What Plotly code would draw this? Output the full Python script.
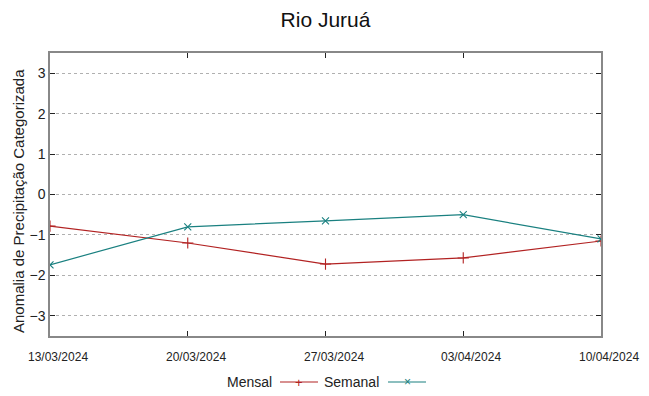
import plotly.graph_objects as go

dates = ["2024-03-13", "2024-03-20", "2024-03-27", "2024-04-03", "2024-04-10"]
tick_labels = ["13/03/2024", "20/03/2024", "27/03/2024", "03/04/2024", "10/04/2024"]
mensal = [-0.78, -1.2, -1.72, -1.57, -1.15]
semanal = [-1.74, -0.8, -0.65, -0.5, -1.1]

RED = "#b22222"
TEAL = "#1a8080"

fig = go.Figure()
fig.add_trace(go.Scatter(x=dates, y=mensal, mode="lines+markers", name="Mensal",
                         line=dict(color=RED, width=1.2),
                         marker=dict(symbol="cross-thin", size=8, line=dict(color=RED, width=1.1))))
fig.add_trace(go.Scatter(x=dates, y=semanal, mode="lines+markers", name="Semanal",
                         line=dict(color=TEAL, width=1.2),
                         marker=dict(symbol="x-thin", size=7, line=dict(color=TEAL, width=1.1))))

# page has an 8px body margin; compensate so the figure fills the 649x396 window
OFF = 8
W, H = 649 - OFF, 396 - OFF
L, R, T, B = 50 - OFF, 48, 53 - OFF, 60
pw, ph = W - L - R, H - T - B

def px(x):  # page pixel -> paper
    return (x - OFF - L) / pw

def py(y):
    return (H - B - (y - OFF)) / ph

fig.update_layout(
    width=W, height=H,
    margin=dict(l=L, r=R, t=T, b=B, autoexpand=False),
    paper_bgcolor="white", plot_bgcolor="white",
    showlegend=False,
    font=dict(family="Liberation Sans, Arial, sans-serif", color="#222"),
    title=dict(text="Rio Juruá", x=0.5, xref="paper", xanchor="center", y=1 - (20 - OFF) / H,
               yanchor="middle", font=dict(size=21, color="#111")),
)
fig.update_xaxes(type="date", range=[dates[0], dates[-1]], tickvals=dates, showticklabels=False,
                 ticks="inside", ticklen=5, tickcolor="#222", showgrid=False, automargin=False,
                 showline=True, linecolor="#888", linewidth=1.5, mirror="ticks",
                 zeroline=False)
fig.update_yaxes(range=[-3.5, 3.5], tickvals=[-3, -2, -1, 0, 1, 2, 3], ticks="inside", ticklen=5,
                 tickcolor="#222", showgrid=True, gridcolor="#b0b0b0", griddash="dot", gridwidth=1,
                 showline=True, linecolor="#888", linewidth=1.5, mirror="ticks", zeroline=False,
                 automargin=False, tickfont=dict(size=14, color="#222"))

# x tick labels (gnuplot places them slightly right of the tick)
for d, lab in zip(dates, tick_labels):
    fig.add_annotation(x=d, xref="x", y=py(357), yref="paper", text=lab, showarrow=False,
                       xanchor="center", yanchor="middle", xshift=8,
                       font=dict(family="Liberation Sans Narrow, Liberation Sans, sans-serif",
                                 size=12, color="#222"))

# y axis title
fig.add_annotation(x=px(19), y=py(201), xref="paper", yref="paper", textangle=-90,
                   text="Anomalia de Precipitação Categorizada", showarrow=False,
                   xanchor="center", yanchor="middle", font=dict(size=15, color="#222"))

ly = py(382)
fig.add_annotation(x=px(274), y=ly, xref="paper", yref="paper", text="Mensal", showarrow=False,
                   xanchor="right", yanchor="middle", font=dict(size=14, color="#222"))
fig.add_shape(type="line", xref="paper", yref="paper", x0=px(280), x1=px(318), y0=ly, y1=ly,
              line=dict(color=RED, width=1.2))
fig.add_annotation(x=px(299), y=ly, xref="paper", yref="paper", text="+", showarrow=False,
                   xanchor="center", yanchor="middle", font=dict(size=13, color=RED))
fig.add_annotation(x=px(381), y=ly, xref="paper", yref="paper", text="Semanal", showarrow=False,
                   xanchor="right", yanchor="middle", font=dict(size=14, color="#222"))
fig.add_shape(type="line", xref="paper", yref="paper", x0=px(388), x1=px(426), y0=ly, y1=ly,
              line=dict(color=TEAL, width=1.2))
fig.add_annotation(x=px(407), y=ly, xref="paper", yref="paper", text="×", showarrow=False,
                   xanchor="center", yanchor="middle", font=dict(size=12, color=TEAL))

fig.write_html("out.html")
